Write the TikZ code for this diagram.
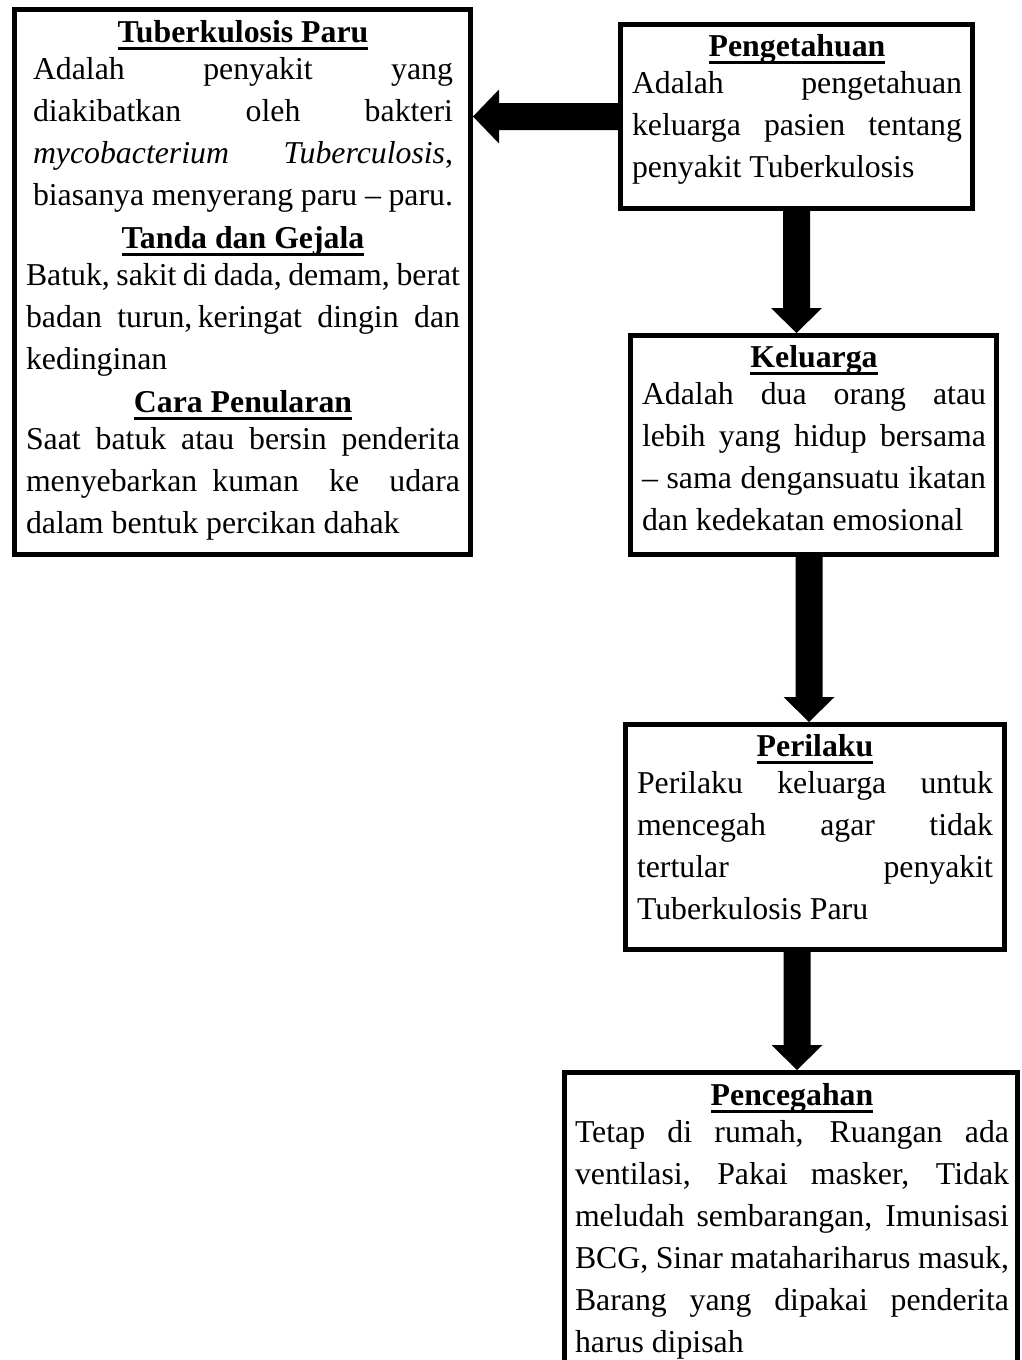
\documentclass[tikz,border=0pt]{standalone}
\usepackage{fontspec}
\setmainfont{Liberation Serif}
\usetikzlibrary{calc}
\newcommand\bodyfont{\fontsize{31.8pt}{42pt}\selectfont}
\newcommand\ttl[1]{\makebox[\linewidth][c]{\bfseries\setbox0=\hbox{#1}\rlap{\rule[-8pt]{\wd0}{3pt}}\box0}}
\newcommand\jl[1]{\makebox[\linewidth][s]{#1}}
\newcommand\fl[1]{\makebox[\linewidth][l]{#1}}
\newcommand\blkdown[2]{%
  \fill[blk] ($(#1)+(-13.5,0)$) -- ($(#2)+(-13.5,-25)$) -- ($(#2)+(-25.5,-25)$) -- (#2)
    -- ($(#2)+(25.5,-25)$) -- ($(#2)+(13.5,-25)$) -- ($(#1)+(13.5,0)$) -- cycle;}
\tikzset{
  boxnode/.style={draw=black, line width=5pt, rectangle, inner sep=0pt, fill=white},
  txtnode/.style={inner sep=0pt, outer sep=0pt, anchor=base west},
  blk/.style={fill=black},
}
\begin{document}
\begin{tikzpicture}[x=1pt,y=-1pt]
\useasboundingbox (0,0) rectangle (1021,1360);
\fill[white] (0,0) rectangle (1021,1360);
\clip (0,0) rectangle (1021,1360);

% boxes
\node[boxnode, minimum width=456pt, minimum height=545pt] (tb) at (242.5,282) {};
\node[boxnode, minimum width=352pt, minimum height=184pt] (pen) at (796.5,116.5) {};
\node[boxnode, minimum width=366pt, minimum height=219pt] (kel) at (813.5,445) {};
\node[boxnode, minimum width=379pt, minimum height=225pt] (per) at (815,837) {};
\node[boxnode, minimum width=453pt, minimum height=303pt] (pcg) at (791,1224) {};

% texts
\node[txtnode] (ttb) at (26,42) {\parbox[t]{434pt}{\bodyfont
\ttl{Tuberkulosis Paru}\\[-5pt]
\hspace*{7pt}\makebox[420pt][s]{Adalah penyakit yang}\\
\hspace*{7pt}\makebox[420pt][s]{diakibatkan oleh bakteri}\\
\hspace*{7pt}\makebox[420pt][s]{\textit{mycobacterium Tuberculosis},}\\
\hspace*{7pt}\makebox[420pt][s]{biasanya menyerang paru – paru.}\\[1pt]
\ttl{Tanda dan Gejala}\\[-5pt]
\jl{Batuk, sakit di dada, demam, berat}\\
\jl{badan turun,\,keringat dingin dan}\\
\fl{kedinginan}\\[1pt]
\ttl{Cara Penularan}\\[-5pt]
\jl{Saat batuk atau bersin penderita}\\
\jl{menyebarkan kuman\ \ ke\ \ udara}\\
\fl{dalam bentuk percikan dahak}}};

\node[txtnode] (tpen) at (632,56) {\parbox[t]{330pt}{\bodyfont
\ttl{Pengetahuan}\\[-5pt]
\jl{Adalah pengetahuan}\\
\jl{keluarga pasien tentang}\\
\fl{penyakit Tuberkulosis}}};

\node[txtnode] (tkel) at (642,367) {\parbox[t]{344pt}{\bodyfont
\ttl{Keluarga}\\[-5pt]
\jl{Adalah dua orang atau}\\
\jl{lebih yang hidup bersama}\\
\jl{– sama dengansuatu ikatan}\\
\fl{dan kedekatan emosional}}};

\node[txtnode] (tper) at (637,756) {\parbox[t]{356pt}{\bodyfont
\ttl{Perilaku}\\[-5pt]
\jl{Perilaku keluarga untuk}\\
\jl{mencegah agar tidak}\\
\jl{tertular penyakit}\\
\fl{Tuberkulosis Paru}}};

\node[txtnode] (tpcg) at (575,1105) {\parbox[t]{434pt}{\bodyfont
\ttl{Pencegahan}\\[-5pt]
\jl{Tetap di rumah, Ruangan ada}\\
\jl{ventilasi, Pakai masker, Tidak}\\
\jl{meludah sembarangan, Imunisasi}\\
\jl{BCG, Sinar matahariharus masuk,}\\
\jl{Barang yang dipakai penderita}\\
\fl{harus dipisah}}};

% left block arrow: pen -> tb
\coordinate (a1s) at (pen.west);
\coordinate (a1t) at (tb.east |- pen.west);
\fill[blk] ($(a1s)+(0,-13.5)$) -- ($(a1t)+(26,-13.5)$) -- ($(a1t)+(26,-27)$) -- (a1t)
  -- ($(a1t)+(26,27)$) -- ($(a1t)+(26,13.5)$) -- ($(a1s)+(0,13.5)$) -- cycle;

% down block arrows
\coordinate (d1s) at (pen.south);
\coordinate (d1e) at (pen.south |- kel.north);
\blkdown{d1s}{d1e}
\coordinate (d2s) at (809,0 |- kel.south);
\coordinate (d2e) at (809,0 |- per.north);
\blkdown{d2s}{d2e}
\coordinate (d3s) at (797,0 |- per.south);
\coordinate (d3e) at (797,0 |- pcg.north);
\blkdown{d3s}{d3e}
\end{tikzpicture}
\end{document}
